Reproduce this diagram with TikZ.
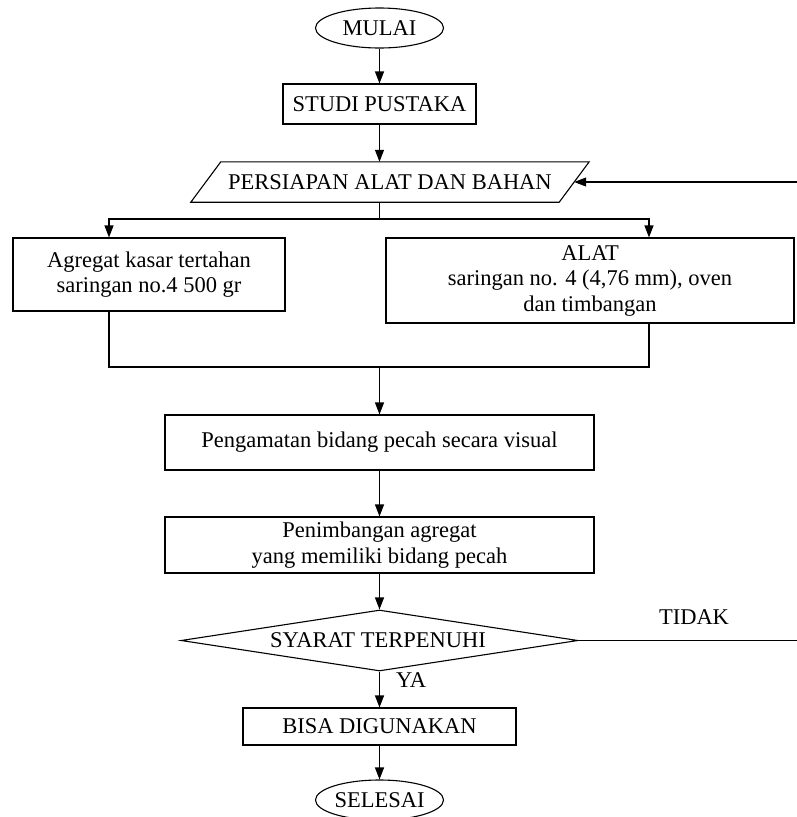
\documentclass[tikz,border=0pt]{standalone}
\usepackage{fontspec}
\setmainfont{Liberation Serif}
\usetikzlibrary{shapes.geometric,arrows.meta}
\begin{document}
\begin{tikzpicture}[x=1pt,y=-1pt,
  every node/.style={font=\fontsize{22.5}{25.5}\selectfont, inner sep=0pt},
  conn/.style={line width=1.1pt},
  box/.style={draw, rectangle, conn},
  term/.style={draw, ellipse, conn},
  arr/.style={conn, -{Triangle[length=12pt,width=9pt]}}]
\useasboundingbox (0,0) rectangle (797,817);

% terminals and process boxes
\node[term, minimum width=128, minimum height=40] (mulai) at (379.5,28) {MULAI};
\node[box, minimum width=193, minimum height=40] (studi) at (379.5,104) {STUDI PUSTAKA};

% input/output parallelogram
\node[minimum width=368, minimum height=40] (persiapan) at (390,182) {PERSIAPAN ALAT DAN BAHAN};
\draw[conn] ([xshift=15pt]persiapan.north west) -- ([xshift=15pt]persiapan.north east)
  -- ([xshift=-15pt]persiapan.south east) -- ([xshift=-15pt]persiapan.south west) -- cycle;

\node[box, minimum width=272, minimum height=73, align=center] (agregat) at (149,274.5)
  {Agregat kasar tertahan\\saringan no.4 500 gr};
\node[box, minimum width=408, minimum height=85, align=center] (alat) at (590,280.5)
  {ALAT\\saringan no. 4 (4,76 mm), oven\\dan timbangan};

\node[box, minimum width=429, minimum height=55] (amat) at (379.5,442.5)
  {Pengamatan bidang pecah secara visual};
\node[box, minimum width=429, minimum height=56, align=center] (timbang) at (379.5,545)
  {Penimbangan agregat\\yang memiliki bidang pecah};

% decision
\node[diamond, draw, conn, minimum width=397, minimum height=61] (syarat) at (379.5,640.5) {};
\node (syarattext) at (378,640) {SYARAT TERPENUHI};
\node (tidak) at (694,617) {TIDAK};
\node (ya) at (411,680) {YA};

\node[box, minimum width=273, minimum height=37] (bisa) at (379.5,726.5) {BISA DIGUNAKAN};
\node[term, minimum width=128, minimum height=40] (selesai) at (379.5,800) {SELESAI};

% connectors
\draw[arr] (mulai.south) -- (studi.north);
\draw[arr] (studi.south) -- (studi.south |- persiapan.north);
\coordinate (split) at (379.5,219);
\draw[conn] (studi.south |- persiapan.south) -- (split);
\draw[arr] (split) -| ([xshift=-40pt]agregat.north);
\draw[arr] (split) -| ([xshift=59pt]alat.north);
\coordinate (merge) at (379.5,367);
\draw[conn] ([xshift=-40pt]agregat.south) |- (merge);
\draw[conn] ([xshift=59pt]alat.south) |- (merge);
\draw[arr] (merge) -- (amat.north);
\draw[arr] (amat.south) -- (timbang.north);
\draw[arr] (timbang.south) -- (syarat.north);
\draw[arr] (syarat.south) -- (bisa.north);
\draw[arr] (bisa.south) -- (selesai.north);

% loop back for the "TIDAK" branch
\coordinate (edge) at (798.5,640.5);
\draw[arr] (syarat.east) -- (edge) |- (persiapan.east);
\end{tikzpicture}
\end{document}
